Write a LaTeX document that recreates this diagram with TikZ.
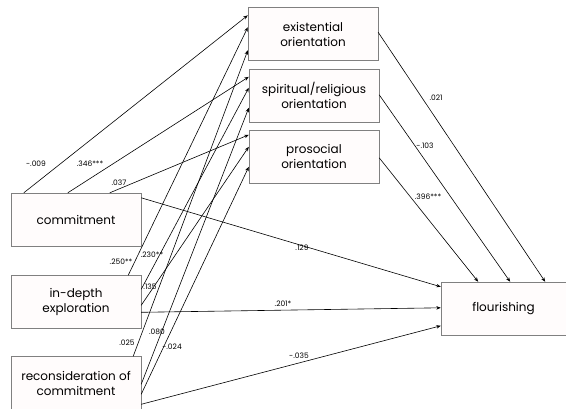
\documentclass[tikz,border=0pt]{standalone}
\usepackage{fontspec}
\setmainfont{Poppins}
\usetikzlibrary{arrows.meta}

\begin{document}
\begin{tikzpicture}[x=1pt, y=-1pt, >={Stealth[length=4.5pt,width=3.5pt]},
  var/.style={draw=black!50, fill=red!1, rectangle, minimum width=130pt, minimum height=53pt, align=center, font=\fontsize{12}{15}\selectfont},
  lbl/.style={inner sep=0pt, font=\fontsize{7.5}{8}\selectfont},
  path/.style={->, line width=0.6pt}]
            \useasboundingbox (0,0) rectangle (566,409);
            \node[var] (exist) at (313,34) {existential\\orientation};
            \node[var] (spirit) at (314,95.5) {spiritual/religious\\orientation};
            \node[var] (proso) at (314,156.5) {prosocial\\orientation};
            \node[var] (commit) at (76,219.5) {commitment};
            \node[var] (depth) at (76,302) {in-depth\\exploration};
            \node[var] (recon) at (76,383) {reconsideration of\\commitment};
            \node[var, minimum width=125pt] (flour) at (503.5,308.5) {flourishing};

            % identity -> orientations
            \draw[path] ([xshift=13pt]commit.north west) -- ([yshift=-8pt]exist.north west);
            \draw[path] ([xshift=57pt]commit.north west) -- ([yshift=-8pt]spirit.north west);
            \draw[path] ([xshift=99pt]commit.north west) -- ([yshift=-5pt]proso.north west);
            \draw[path] ([xshift=-13pt]depth.north east) -- ([yshift=-20pt]exist.north west);
            \draw[path] ([yshift=-14pt]depth.north east) -- ([yshift=-19pt]spirit.north west);
            \draw[path] ([yshift=-30pt]depth.north east) -- ([yshift=-17pt]proso.north west);
            \draw[path] ([xshift=-8pt]recon.north east) -- ([yshift=-43pt]exist.north west);
            \draw[path] ([yshift=-28pt]recon.north east) -- ([yshift=-39pt]spirit.north west);
            \draw[path] ([yshift=-38pt]recon.north east) -- ([yshift=-37pt]proso.north west);

            % identity -> flourishing
            \draw[path] ([yshift=-5pt]commit.north east) -- ([yshift=-5pt]flour.north west);
            \draw[path] ([yshift=-37pt]depth.north east) -- ([yshift=-26pt]flour.north west);
            \draw[path] ([yshift=-48pt]recon.north east) -- ([yshift=-44pt]flour.north west);

            % orientations -> flourishing
            \draw[path] ([yshift=-25pt]exist.north east) -- ([xshift=-21pt]flour.north east);
            \draw[path] ([yshift=-26pt]spirit.north east) -- ([xshift=-56pt]flour.north east);
            \draw[path] ([yshift=-28pt]proso.north east) -- ([xshift=-88pt]flour.north east);

            % coefficients
            \node[lbl] (c1) at (36,164) {-.009};
            \node[lbl] (c2) at (90,164) {.346***};
            \node[lbl] (c3) at (119,183) {.037};
            \node[lbl] (d1) at (121,262) {.250**};
            \node[lbl] (d2) at (152,255) {.230**};
            \node[lbl] (d3) at (150,287) {.135};
            \node[lbl] (r1) at (127,343) {.025};
            \node[lbl] (r2) at (157,332) {.080};
            \node[lbl] (r3) at (172,347) {-.024};
            \node[lbl] (f1) at (302,248) {.129};
            \node[lbl] (f2) at (283,304) {.201*};
            \node[lbl] (f3) at (299,356) {-.035};
            \node[lbl] (o1) at (436,98) {.021};
            \node[lbl] (o2) at (425,146) {-.103};
            \node[lbl] (o3) at (428,197) {.396***};
        \end{tikzpicture}
\end{document}
